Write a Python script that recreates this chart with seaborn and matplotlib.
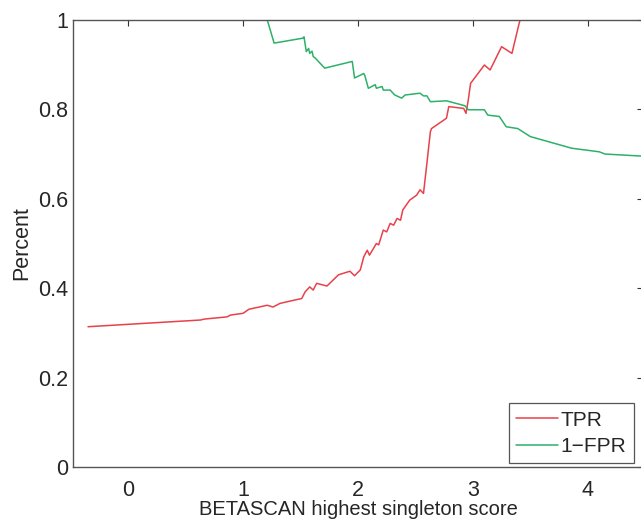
import pandas as pd
import matplotlib
matplotlib.use('Agg')
import matplotlib.pyplot as plt
import seaborn as sns

# TPR curve
tpr_x = [-0.35, 0.63, 0.66, 0.86, 0.89, 1.00, 1.05, 1.21, 1.26, 1.32, 1.42, 1.51,
         1.54, 1.58, 1.61, 1.64, 1.73, 1.83, 1.93, 1.97, 2.02, 2.05, 2.08, 2.10,
         2.16, 2.18, 2.22, 2.25, 2.28, 2.31, 2.34, 2.37, 2.39, 2.45, 2.51, 2.54,
         2.57, 2.60, 2.63, 2.64, 2.77, 2.79, 2.92, 2.94, 2.96, 2.98, 3.10, 3.15,
         3.25, 3.34, 3.41, 4.50]
tpr_y = [0.314, 0.329, 0.331, 0.336, 0.340, 0.344, 0.353, 0.362, 0.358, 0.366, 0.372, 0.377,
         0.392, 0.403, 0.396, 0.411, 0.405, 0.430, 0.438, 0.428, 0.441, 0.470, 0.485, 0.474,
         0.500, 0.497, 0.530, 0.526, 0.545, 0.541, 0.556, 0.552, 0.575, 0.597, 0.608, 0.620,
         0.612, 0.680, 0.750, 0.757, 0.780, 0.806, 0.802, 0.791, 0.821, 0.858, 0.899, 0.888,
         0.940, 0.925, 1.000, 1.000]

# 1-FPR curve
fpr_x = [-0.35, 1.21, 1.27, 1.52, 1.53, 1.55, 1.57, 1.58, 1.60, 1.61, 1.63, 1.71,
         1.95, 1.97, 2.05, 2.06, 2.09, 2.15, 2.16, 2.21, 2.22, 2.28, 2.32, 2.38,
         2.41, 2.54, 2.57, 2.60, 2.63, 2.77, 2.93, 2.96, 3.10, 3.13, 3.23, 3.29,
         3.39, 3.50, 3.86, 4.10, 4.15, 4.50]
fpr_y = [1.000, 1.000, 0.948, 0.959, 0.962, 0.929, 0.936, 0.925, 0.930, 0.918, 0.914, 0.892,
         0.907, 0.870, 0.880, 0.875, 0.847, 0.855, 0.847, 0.851, 0.843, 0.843, 0.832, 0.825,
         0.832, 0.836, 0.830, 0.830, 0.817, 0.819, 0.808, 0.799, 0.799, 0.787, 0.784, 0.761,
         0.757, 0.739, 0.713, 0.705, 0.700, 0.695]

series_names = ['TPR', '1\u2212FPR']
xticks = [0, 1, 2, 3, 4]
yticks = [0, 0.2, 0.4, 0.6, 0.8, 1]
ytick_labels = ['0', '0.2', '0.4', '0.6', '0.8', '1']

df = pd.concat([
    pd.DataFrame({'score': tpr_x, 'rate': tpr_y, 'curve': series_names[0]}),
    pd.DataFrame({'score': fpr_x, 'rate': fpr_y, 'curve': series_names[1]}),
], ignore_index=True)

sns.set_style('white')
plt.rcParams['font.family'] = ['Liberation Sans', 'DejaVu Sans']

fig = plt.figure(figsize=(6.41, 5.22), dpi=100)
ax = fig.add_axes([0.114, 0.105, 0.889, 0.857])

palette = {series_names[0]: '#e8414a', series_names[1]: '#2eb06a'}
sns.lineplot(data=df, x='score', y='rate', hue='curve', palette=palette,
             estimator=None, sort=False, linewidth=1.1, ax=ax)

ax.set_xlim(-0.48, 4.48)
ax.set_ylim(0, 1)
ax.set_xticks(xticks)
ax.set_yticks(yticks)
ax.set_yticklabels(ytick_labels)
ax.tick_params(direction='in', length=4, width=0.8, color='#333333',
               labelsize=15.5, top=True, right=True)
ax.tick_params(axis='x', pad=9)
ax.tick_params(axis='y', pad=3.5)
for s in ax.spines.values():
    s.set_color('#555555')
    s.set_linewidth(1.0)

ax.set_xlabel('BETASCAN highest singleton score', fontsize=14.5, labelpad=-0.5)
ax.set_ylabel('Percent', fontsize=15.5, labelpad=4)

leg = ax.legend(loc='lower right', bbox_to_anchor=(0.984, 0.009), borderaxespad=0,
                fontsize=15, frameon=True, fancybox=False, framealpha=1,
                edgecolor='#555555', handlelength=2.0, labelspacing=0.35,
                handletextpad=0.15, borderpad=0.35)
leg.get_frame().set_linewidth(0.9)

fig.savefig('out.png', dpi=100)
